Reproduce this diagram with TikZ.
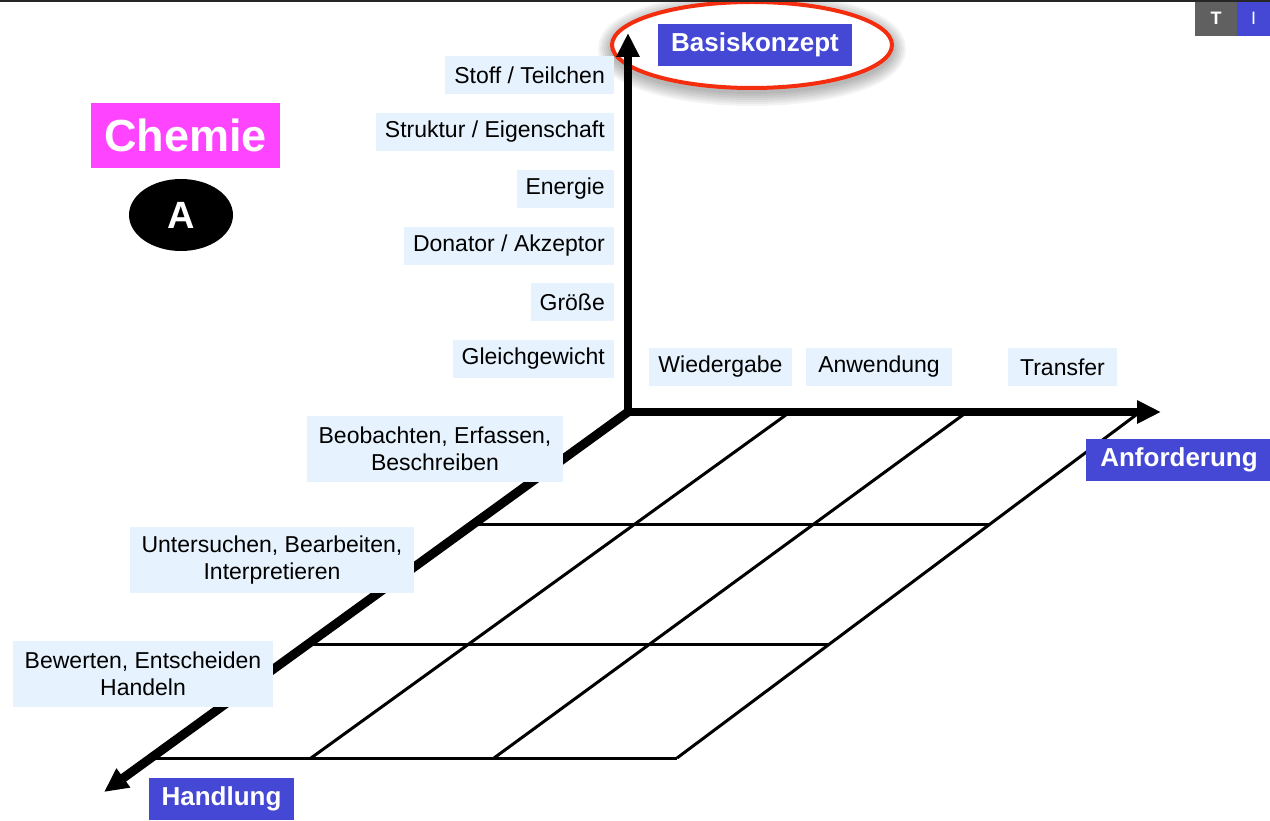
\documentclass[tikz,border=0pt]{standalone}
\usepackage{fontspec}
\setmainfont{Liberation Sans}
\usetikzlibrary{arrows.meta,calc,shapes.geometric}

\definecolor{axisblue}{RGB}{68,72,212}
\definecolor{tagblue}{RGB}{230,242,253}
\definecolor{chemiepink}{RGB}{255,68,255}
\definecolor{ringred}{RGB}{245,45,15}
\definecolor{tabgray}{RGB}{96,96,96}

\begin{document}
\begin{tikzpicture}[x=1pt,y=-1pt,
  tag/.style={fill=tagblue, inner xsep=9pt, inner ysep=0pt, minimum height=38pt,
    font=\fontsize{23}{27}\selectfont},
  tagtwo/.style={fill=tagblue, align=center, inner xsep=12pt, inner ysep=0pt,
    minimum height=66pt, font=\fontsize{23}{27}\selectfont},
  axislabel/.style={fill=axisblue, text=white, inner xsep=13pt, inner ysep=0pt,
    minimum height=42pt, font=\bfseries\fontsize{26}{30}\selectfont},
  axisline/.style={line width=8pt, -{Triangle[length=24pt,width=22pt]}},
  gridline/.style={line width=3pt},
  glow/.style={black, opacity=0.045}
]
\useasboundingbox (0,0) rectangle (1270,821);
\fill[white] (0,0) rectangle (1270,821);

% ---------- grid corners: top row (on the Anforderung axis) and bottom row
\coordinate (t0) at (627,412);
\coordinate (t1) at (790,412);
\coordinate (t2) at (967,412);
\coordinate (t3) at (1140,412);
\coordinate (b0) at (152,758);
\coordinate (b1) at (311,758);
\coordinate (b2) at (494,758);
\coordinate (b3) at (677,758);

% slanted column lines
\draw[gridline] (t1) -- (b1);
\draw[gridline] (t2) -- (b2);
\draw[gridline] (t3) -- (b3);
% row lines
\draw[gridline] ($(t0)!0.324!(b0)$) -- ($(t3)!0.324!(b3)$);
\draw[gridline] ($(t0)!0.671!(b0)$) -- ($(t3)!0.671!(b3)$);
\draw[gridline] (b0) -- (b3);

% ---------- highlighted ring around the Basiskonzept label
\foreach \w in {4,8,12,16,20,24,28}
  \draw[glow, line width=\w pt] (752,49) ellipse [x radius=140pt, y radius=43pt];
\node[ellipse, draw=ringred, fill=white, line width=4pt, inner sep=0pt,
      minimum width=280pt, minimum height=86pt] (ring) at (752,45) {};

% ---------- axes
\coordinate (origin) at (628,412);
\coordinate (uptip) at (628,33);
\coordinate (righttip) at (1161,412);
\coordinate (downtip) at (104,792);
\draw[axisline, line width=9pt] (origin) -- (downtip);
\draw[axisline] ($(origin)+(0,4)$) -- (uptip);
\draw[axisline] ($(origin)+(-4,0)$) -- (righttip);

% ---------- axis names
\node[axislabel] (basis) at (755,45) {Basiskonzept};
\node[axislabel, inner xsep=14pt] (anf) at (1179,460) {Anforderung};
\node[axislabel] (handl) at (221.5,799) {Handlung};

% ---------- Basiskonzept entries
\node[tag, anchor=east] (k1) at (614,75)  {Stoff / Teilchen};
\node[tag, anchor=east] (k2) at (614,132) {Struktur / Eigenschaft};
\node[tag, anchor=east] (k3) at (614,189) {Energie};
\node[tag, anchor=east] (k4) at (614,246) {Donator / Akzeptor};
\node[tag, anchor=east] (k5) at (614,302) {Größe};
\node[tag, anchor=east] (k6) at (614,359) {Gleichgewicht};

% ---------- Anforderung entries
\node[tag] (a1) at (720.5,367) {Wiedergabe};
\node[tag, inner xsep=12pt] (a2) at (879,367) {Anwendung};
\node[tag, inner xsep=12pt] (a3) at (1062.5,367) {Transfer};

% ---------- Handlung entries
\node[tagtwo] (h1) at (435,448.5) {Beobachten, Erfassen,\\Beschreiben};
\node[tagtwo] (h2) at (272,560) {Untersuchen, Bearbeiten,\\Interpretieren};
\node[tagtwo] (h3) at (143,674) {Bewerten, Entscheiden\\Handeln};

% ---------- subject badge
\node[fill=chemiepink, text=white, minimum width=189pt, minimum height=65pt,
      inner sep=0pt, font=\bfseries\fontsize{45}{50}\selectfont] (chemie) at (185.5,135.5) {Chemie};
\node[ellipse, fill=black, text=white, minimum width=104pt, minimum height=72pt,
      inner sep=0pt, font=\bfseries\fontsize{38}{40}\selectfont] (level) at (181,215) {A};

% ---------- tabs top right and top rule
\node[fill=tabgray, text=white, minimum width=42pt, minimum height=36pt, inner sep=0pt,
      font=\bfseries\fontsize{18}{20}\selectfont] (tabT) at (1216,18) {T};
\node[fill=axisblue, text=white, minimum width=33pt, minimum height=36pt, inner sep=0pt,
      font=\fontsize{18}{20}\selectfont] (tabI) at (1253.5,18) {I};
\draw[line width=2pt, black!85] (0,1) -- (1270,1);
\end{tikzpicture}
\end{document}
